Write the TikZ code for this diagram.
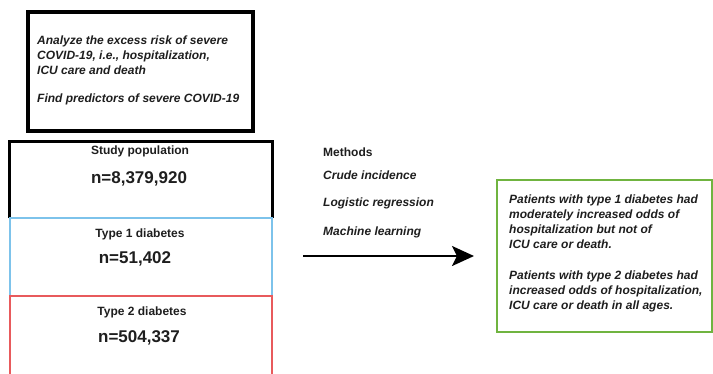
\documentclass[tikz,border=0pt]{standalone}
\usepackage{fontspec}
\setmainfont{Liberation Sans}
\usetikzlibrary{arrows.meta}
\definecolor{tblue}{RGB}{125,195,235}
\definecolor{tred}{RGB}{232,90,92}
\definecolor{tgreen}{RGB}{112,180,64}
\definecolor{ttext}{RGB}{30,30,30}
\tikzset{
  smalltxt/.style={font=\fontsize{12bp}{15bp}\selectfont\bfseries, text=ttext, inner sep=0pt},
  itxt/.style={font=\fontsize{12bp}{15bp}\selectfont\bfseries\itshape, text=ttext, inner sep=0pt, align=left},
  bigtxt/.style={font=\fontsize{17bp}{20bp}\selectfont\bfseries, text=ttext, inner sep=0pt},
  boxshape/.style={rectangle, inner sep=0pt, outer sep=0pt},
}
\begin{document}
\begin{tikzpicture}[x=1bp,y=-1bp]
\useasboundingbox (0,0) rectangle (713,373);
% aims box
\node[boxshape, draw=black, line width=3.2bp, minimum width=225bp, minimum height=119bp] (aims) at (140.5,71.5) {};
\node[itxt, anchor=north west] (aimstxt) at (37,36) {Analyze the excess risk of severe\\COVID-19, i.e., hospitalization,\\ICU care and death\\[13bp]Find predictors of severe COVID-19};
% study population box (open bottom)
\node[boxshape, minimum width=262bp, minimum height=77bp] (study) at (141,179.5) {};
\draw[black, line width=3bp] (study.south west) -- (study.north west) -- (study.north east) -- (study.south east);
\node[smalltxt] (studylab) at (140,151.5) {Study population};
\node[bigtxt] (studyn) at (139,179) {n=8,379,920};
% type 1
\node[boxshape, draw=tblue, line width=2.6bp, minimum width=262bp, minimum height=78bp] (t1) at (141,257) {};
\node[smalltxt] (t1lab) at (140,234) {Type 1 diabetes};
\node[bigtxt] (t1n) at (135,259) {n=51,402};
% type 2 (open bottom, cut by page)
\node[boxshape, minimum width=262bp, minimum height=84bp] (t2) at (141,338) {};
\draw[tred, line width=2.6bp] (t2.south west) -- (t2.north west) -- (t2.north east) -- (t2.south east);
\node[smalltxt] (t2lab) at (142,312) {Type 2 diabetes};
\node[bigtxt] (t2n) at (139,338) {n=504,337};
% methods
\node[smalltxt, anchor=west] (meth) at (323,152) {Methods};
\node[itxt, anchor=west] (m1) at (323,175) {Crude incidence};
\node[itxt, anchor=west] (m2) at (323,203.5) {Logistic regression};
\node[itxt, anchor=west] (m3) at (323,232.5) {Machine learning};
% results box
\node[boxshape, draw=tgreen, line width=2.8bp, minimum width=215bp, minimum height=152bp] (res) at (604.5,256) {};
\node[itxt, anchor=north west] (restxt) at (509,195) {Patients with type 1 diabetes had\\moderately increased odds of\\hospitalization but not of\\ICU care or death.\\[16bp]Patients with type 2 diabetes had\\increased odds of hospitalization,\\ICU care or death in all ages.};
% arrow
\coordinate (astart) at ([xshift=-194bp]res.west);
\coordinate (aend) at ([xshift=-23bp]res.west);
\draw[line width=2.6bp, -{Stealth[length=22bp,width=20bp,inset=5bp]}] (astart) -- (aend);
\end{tikzpicture}
\end{document}
